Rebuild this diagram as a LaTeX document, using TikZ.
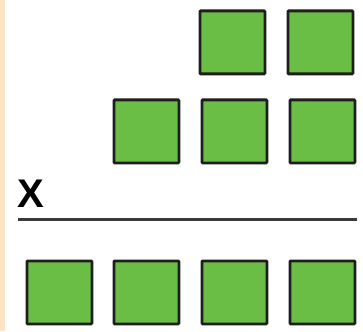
\documentclass[tikz,border=0pt]{standalone}
\usepackage{fontspec}
\setmainfont{Liberation Sans}
\definecolor{tilegreen}{HTML}{6ABD45}
\definecolor{tileedge}{HTML}{1E1E1E}
\definecolor{peach}{HTML}{FDE3C8}
\definecolor{rulegray}{HTML}{3A3A3A}
\tikzset{
  tile/.style={draw=tileedge, line width=2.8pt, fill=tilegreen, minimum width=65pt, minimum height=63pt, inner sep=0pt, anchor=north west, rounded corners=0.8pt},
}
\begin{document}
\begin{tikzpicture}[x=1pt,y=-1pt]
\useasboundingbox (0,0) rectangle (363,331);
\fill[white] (0,0) rectangle (363,331);
\fill[peach] (0,0) rectangle (5,331);
% top row
\node[tile] (t1) at (198.5,9.5) {};
\node[tile] (t2) at (286.5,9.5) {};
% second row
\node[tile] (m1) at (112.5,98.5) {};
\node[tile] (m2) at (200.5,98.5) {};
\node[tile] (m3) at (288.5,98.5) {};
% label and rule
\node[font=\bfseries\fontsize{40}{40}\selectfont, inner sep=0pt, anchor=base west] (xl) at (17,207) {X};
\coordinate (ra) at (18,219);
\coordinate (rb) at (357,219);
\draw[rulegray, line width=3pt] (ra) -- (rb);
% bottom row
\node[tile] (b1) at (25.5,259.5) {};
\node[tile] (b2) at (112.5,259.5) {};
\node[tile] (b3) at (200.5,259.5) {};
\node[tile] (b4) at (288.5,259.5) {};
\end{tikzpicture}
\end{document}
